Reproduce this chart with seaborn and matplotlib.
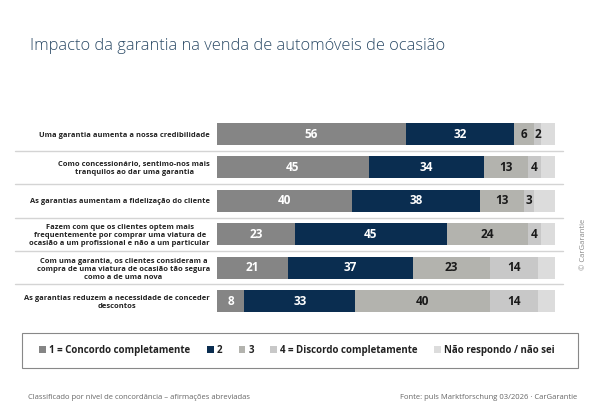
import matplotlib
matplotlib.use("Agg")
import matplotlib.pyplot as plt
from matplotlib.patches import Patch, Rectangle
import seaborn as sns
import numpy as np
import pandas as pd

statements = [
    "Uma garantia aumenta a nossa credibilidade",
    "Como concessionário, sentimo-nos mais\ntranquilos ao dar uma garantia",
    "As garantias aumentam a fidelização do cliente",
    "Fazem com que os clientes optem mais\nfrequentemente por comprar uma viatura de\nocasião a um profissional e não a um particular",
    "Com uma garantia, os clientes consideram a\ncompra de uma viatura de ocasião tão segura\ncomo a de uma nova",
    "As garantias reduzem a necessidade de conceder\ndescontos",
]
concordo = [56, 45, 40, 23, 21, 8]
nivel_2 = [32, 34, 38, 45, 37, 33]
nivel_3 = [6, 13, 13, 24, 23, 40]
discordo = [2, 4, 3, 4, 14, 14]
nao_sei = [4, 4, 6, 4, 5, 5]

legend_labels = ["1 = Concordo completamente", "2", "3",
                 "4 = Discordo completamente", "Não respondo / não sei"]
colors = ["#858585", "#0a2d50", "#b3b3ae", "#c8c8c8", "#dcdcdc"]
text_colors = ["white", "white", "#1a1a1a", "#1a1a1a", "#1a1a1a"]

series = [concordo, nivel_2, nivel_3, discordo, nao_sei]
df = pd.DataFrame(np.array(series).T, columns=legend_labels)
df["statement"] = [f"s{i}" for i in range(len(statements))]
cum = df[legend_labels].cumsum(axis=1)

sns.set_style("white")
plt.rcParams["font.family"] = ["Open Sans", "DejaVu Sans"]

fig = plt.figure(figsize=(6, 4.15), dpi=100)
ax = fig.add_axes([0.3617, 0.2343, 0.5625, 0.483])

# stacked bars: draw cumulative totals from the back to the front
for col, color in reversed(list(zip(legend_labels, colors))):
    sns.barplot(x=cum[col], y=df["statement"], orient="h", color=color,
                width=0.66, ax=ax, saturation=1, linewidth=0)

for i in range(len(statements)):
    left = 0
    for j, col in enumerate(legend_labels[:4]):
        v = df.loc[i, col]
        ax.text(left + v / 2, i, str(v), ha="center", va="center",
                fontsize=8.5, fontweight="bold", color=text_colors[j])
        left += v

ax.set_xlim(0, 100)
ax.set_ylim(len(statements) - 0.5, -0.5)
ax.set_xticks([])
ax.set_yticks(range(len(statements)))
ax.set_yticklabels(statements, fontsize=5.4, fontweight="bold",
                   color="#222222", multialignment="center")
ax.tick_params(axis="y", length=0, pad=5)
ax.set_xlabel("")
ax.set_ylabel("")
sns.despine(ax=ax, left=True, bottom=True)

for k in range(len(statements) - 1):
    ax.axhline(k + 0.5, xmin=-0.6, xmax=1.025, color="#d4d4d4", lw=1,
               clip_on=False)

fig.text(0.05, 0.89, "Impacto da garantia na venda de automóveis de ocasião",
         fontsize=11.8, color="#2b4a66", fontweight="light", va="center")

# legend box
fig.add_artist(Rectangle((22 / 600, 0.1133), 556 / 600, 0.0843,
                         transform=fig.transFigure, facecolor="none",
                         edgecolor="#888888", lw=0.8))
handles = [Patch(facecolor=c, edgecolor="none") for c in colors]
leg = fig.legend(handles, legend_labels, loc="center", ncol=5,
                 bbox_to_anchor=(0.495, 0.1555), frameon=False,
                 prop={"size": 7, "weight": "bold"}, handlelength=0.7,
                 handleheight=0.7, handletextpad=0.3, columnspacing=1.7)
for t in leg.get_texts():
    t.set_color("#222222")

fig.text(0.047, 0.042, "Classificado por nível de concordância – afirmações abreviadas",
         fontsize=5.5, color="#666666", va="center")
fig.text(0.962, 0.042, "Fonte: puls Marktforschung 03/2026 · CarGarantie",
         fontsize=5.5, color="#666666", va="center", ha="right")
fig.text(0.972, 0.41, "© CarGarantie", rotation=90, fontsize=5.5,
         color="#888888", va="center", ha="center")

fig.savefig("out.png", dpi=100, facecolor="white")
